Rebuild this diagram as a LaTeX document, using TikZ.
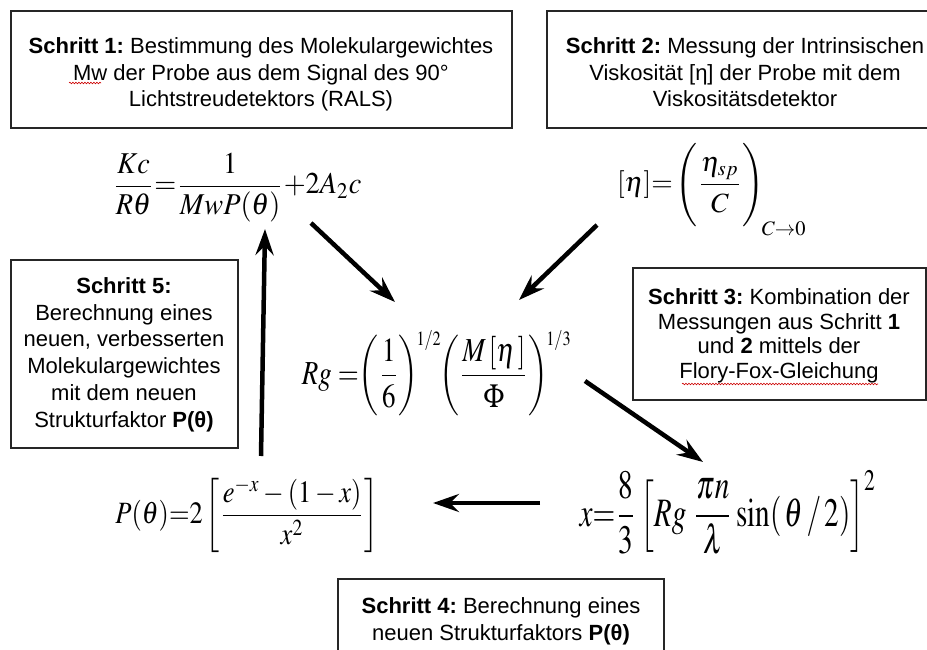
\documentclass[tikz,border=0pt]{standalone}
\usepackage{mathptmx}
\usepackage[no-math]{fontspec}
\setmainfont{Liberation Sans}
\usepackage{graphicx}
\usetikzlibrary{arrows.meta,decorations.pathmorphing}
\frenchspacing
\tikzset{
  stepframe/.style={draw=black!85, line width=1.6pt, inner sep=0pt},
  txt/.style={align=center, inner sep=0pt, anchor=base},
  fs/.style={font=\fontsize{22}{26.7}\selectfont},
  fs3/.style={font=\fontsize{22}{24.4}\selectfont},
  eq/.style={inner sep=0pt},
  flow/.style={line width=4.5pt, -{Stealth[length=26pt,width=18pt,inset=9pt]}},
  wavy/.style={red!80!black, line width=0.6pt, decorate, decoration={snake, amplitude=0.8pt, segment length=3pt}}
}
\begin{document}
\begin{tikzpicture}[x=1pt,y=-1pt]
\useasboundingbox (0,0) rectangle (927,650);
% boxes
\draw[stepframe] (11,11) rectangle (512,128);
\draw[stepframe] (547,11) rectangle (946,128);
\draw[stepframe] (11,260) rectangle (238,448);
\draw[stepframe] (633,268) rectangle (926,400);
\draw[stepframe] (338,579) rectangle (664,660);
% box texts (base anchor = last line baseline)
\node[txt,fs] (t1) at (261,107) {\textbf{Schritt 1:} Bestimmung des Molekulargewichtes\\Mw der Probe aus dem Signal des 90°\\Lichtstreudetektors (RALS)};
\node[txt,fs] (t2) at (745,107) {\textbf{Schritt 2:} Messung der Intrinsischen\\Viskosität [η] der Probe mit dem\\Viskositätsdetektor};
\node[txt,fs] (t5) at (124,427) {\textbf{Schritt 5:}\\Berechnung eines\\neuen, verbesserten\\Molekulargewichtes\\mit dem neuen\\Strukturfaktor \textbf{P(θ)}};
\node[txt,fs3] (t3) at (779,378) {\textbf{Schritt 3:} Kombination der\\Messungen aus Schritt \textbf{1}\\und \textbf{2} mittels der\\Flory-Fox-Gleichung};
\node[txt,fs] (t4) at (501,640) {\textbf{Schritt 4:} Berechnung eines\\neuen Strukturfaktors \textbf{P(θ)}};
% spellcheck underlines
\draw[wavy] (69,83) -- (101,83);
\draw[wavy] (682,384) -- (878,384);
% formulas
\node[eq] (f1) at (237,187.5) {\resizebox*{249pt}{69pt}{$\displaystyle \frac{Kc}{R\theta}\mathord{=}\frac{1}{MwP(\theta)}\mathord{+}2A_{2}c$}};
\node[eq] (f2) at (712,189.5) {\resizebox*{190pt}{93pt}{$\displaystyle [\eta]\mathord{=}\left(\frac{\eta_{sp}\vphantom{\big|}}{C\vphantom{\big|}}\right)_{\!\raisebox{-3pt}{$\scriptstyle C\to 0$}}$}};
\node[eq] (f3) at (437,373) {\resizebox*{270pt}{86pt}{$\displaystyle Rg\;{=}\!\left(\frac{1}{6}\right)^{\!\scriptscriptstyle 1/2}\!\!\left(\frac{M\,[\eta\,]}{\Phi}\right)^{\!\scriptscriptstyle 1/3}$}};
\node[eq] (f4) at (247,515.5) {\resizebox*{263pt}{75pt}{$\displaystyle P(\theta)\mathord{=}2\left[\frac{e^{-x}-(1-x)}{x^{2}}\right]$}};
\node[eq] (f5) at (728,512.5) {\resizebox*{297pt}{84pt}{$\displaystyle x\mathord{=}\frac{8}{3}\left[Rg\;\frac{\pi n}{\lambda}\sin(\,\theta\,/\,2)\right]^{2}$}};
% arrow end points
\coordinate (a1s) at (261,456);
\coordinate (a1e) at (265,229);
\coordinate (a2s) at (311,223);
\coordinate (a2e) at (395,302);
\coordinate (a3s) at (597,225);
\coordinate (a3e) at (519,300);
\coordinate (a4s) at (585,381);
\coordinate (a4e) at (703,462);
\coordinate (a5s) at (540,503);
\coordinate (a5e) at (433,503);
\draw[flow] (a1s) -- (a1e);
\draw[flow] (a2s) -- (a2e);
\draw[flow] (a3s) -- (a3e);
\draw[flow] (a4s) -- (a4e);
\draw[flow] (a5s) -- (a5e);
\end{tikzpicture}
\end{document}
